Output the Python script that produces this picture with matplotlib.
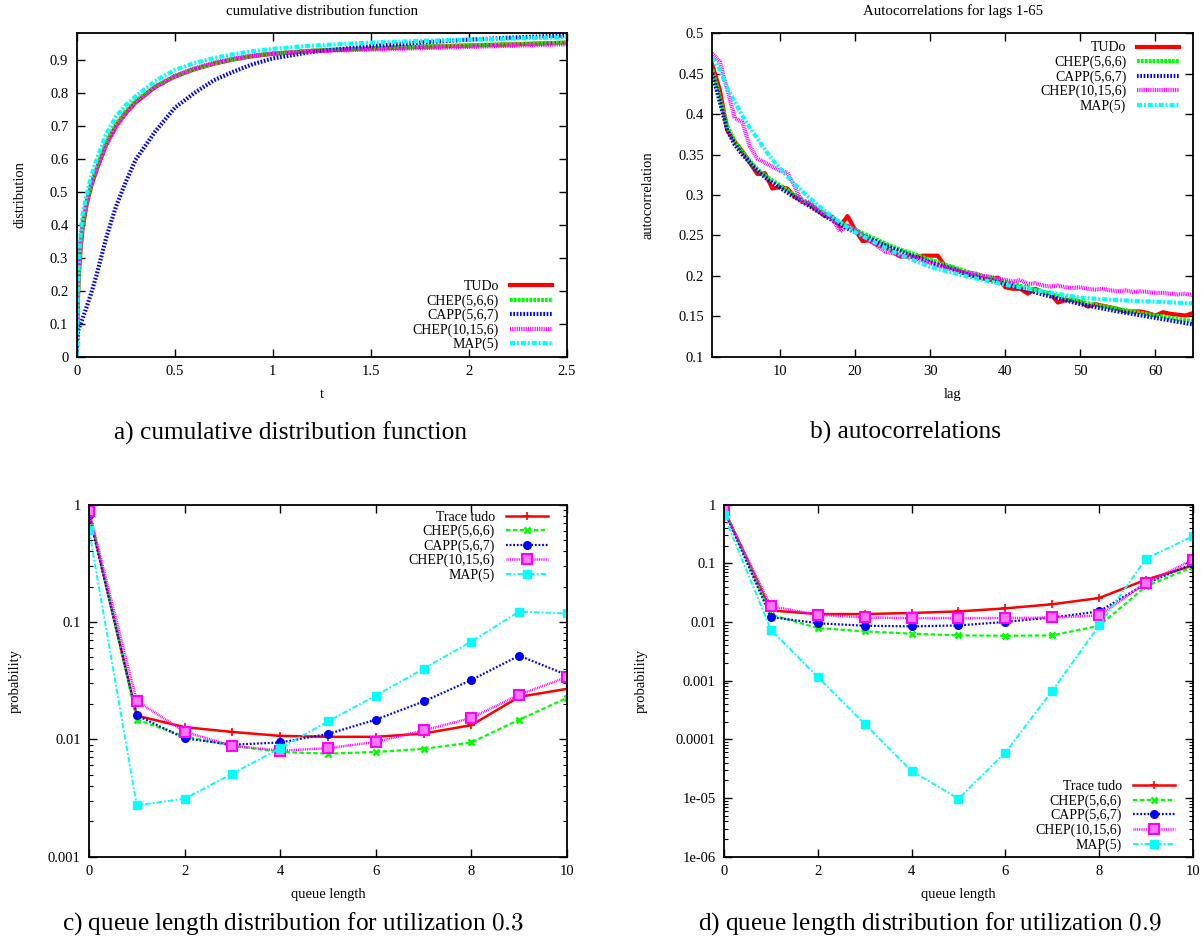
import matplotlib
matplotlib.use("Agg")
import matplotlib.pyplot as plt
from matplotlib import ticker

plt.rcParams['font.family'] = ['Liberation Serif', 'DejaVu Serif']
plt.rcParams['mathtext.fontset'] = 'cm'
plt.rcParams['lines.scale_dashes'] = False

# ---------------- data ----------------
names = ["TUDo", "CHEP(5,6,6)", "CAPP(5,6,7)", "CHEP(10,15,6)", "MAP(5)"]
queue_names = ["Trace tudo", "CHEP(5,6,6)", "CAPP(5,6,7)", "CHEP(10,15,6)", "MAP(5)"]

# a) cdf
t = [0, 0.005, 0.01, 0.02, 0.03, 0.05, 0.075, 0.1, 0.15, 0.2, 0.25, 0.3, 0.4, 0.5,
     0.6, 0.7, 0.8, 0.9, 1.0, 1.2, 1.5, 1.75, 2.0, 2.25, 2.5]
cdf_tudo = [0, 0.15, 0.24, 0.33, 0.39, 0.46, 0.52, 0.565, 0.645, 0.70, 0.74, 0.772, 0.818, 0.85,
            0.872, 0.889, 0.902, 0.912, 0.919, 0.928, 0.935, 0.94, 0.944, 0.948, 0.953]
cdf_chep566 = [0, 0.16, 0.25, 0.34, 0.40, 0.465, 0.525, 0.57, 0.65, 0.705, 0.744, 0.775, 0.82, 0.851,
               0.873, 0.89, 0.903, 0.913, 0.92, 0.929, 0.936, 0.941, 0.945, 0.949, 0.953]
cdf_capp = [0, 0.07, 0.085, 0.10, 0.115, 0.15, 0.195, 0.245, 0.36, 0.455, 0.53, 0.597, 0.683, 0.755,
            0.80, 0.839, 0.865, 0.888, 0.905, 0.925, 0.942, 0.953, 0.962, 0.969, 0.975]
cdf_chep10 = [0, 0.17, 0.26, 0.35, 0.41, 0.47, 0.525, 0.565, 0.64, 0.695, 0.738, 0.77, 0.818, 0.852,
              0.875, 0.892, 0.905, 0.914, 0.92, 0.927, 0.932, 0.936, 0.94, 0.944, 0.948]
cdf_map = [0, 0.19, 0.28, 0.37, 0.43, 0.49, 0.55, 0.595, 0.675, 0.728, 0.763, 0.79, 0.836, 0.87,
           0.891, 0.906, 0.918, 0.927, 0.934, 0.944, 0.953, 0.958, 0.962, 0.966, 0.969]

# b) autocorrelations
lags = list(range(1, 66))
acf_tudo = [0.461, 0.43, 0.38, 0.366, 0.354, 0.34, 0.326, 0.327, 0.308, 0.31,
            0.308, 0.298, 0.292, 0.288, 0.281, 0.274, 0.273, 0.261, 0.274, 0.257,
            0.243, 0.244, 0.238, 0.236, 0.23, 0.224, 0.224, 0.223, 0.225, 0.225,
            0.225, 0.212, 0.21, 0.206, 0.202, 0.2, 0.197, 0.195, 0.198, 0.186,
            0.184, 0.184, 0.178, 0.184, 0.18, 0.178, 0.167, 0.17, 0.17, 0.168,
            0.162, 0.165, 0.163, 0.161, 0.159, 0.156, 0.156, 0.156, 0.154, 0.151,
            0.155, 0.153, 0.152, 0.151, 0.154]
acf_chep10 = [0.475, 0.465, 0.43, 0.395, 0.39, 0.36, 0.345, 0.34, 0.335, 0.33,
              0.328, 0.31, 0.29, 0.292, 0.282, 0.277, 0.27, 0.255, 0.262, 0.258,
              0.25, 0.243, 0.237, 0.23, 0.228, 0.225, 0.224, 0.222, 0.219, 0.216,
              0.213, 0.21, 0.208, 0.205, 0.204, 0.203, 0.2, 0.199, 0.197, 0.195,
              0.193, 0.195, 0.19, 0.191, 0.188, 0.187, 0.188, 0.186, 0.185, 0.186,
              0.184, 0.183, 0.184, 0.182, 0.181, 0.182, 0.18, 0.181, 0.18, 0.179,
              0.179, 0.178, 0.177, 0.178, 0.176]
lags_smooth = [1, 2, 3, 4, 5, 6, 7, 8, 9, 10, 12, 14, 16, 18, 20, 25, 30, 35, 40, 45, 50, 55, 60, 65]
acf_chep566 = [0.455, 0.42, 0.385, 0.366, 0.353, 0.342, 0.332, 0.324, 0.318, 0.312, 0.3, 0.289,
               0.277, 0.266, 0.257, 0.236, 0.22, 0.205, 0.193, 0.18, 0.168, 0.159, 0.151, 0.144]
acf_capp = [0.45, 0.415, 0.38, 0.362, 0.35, 0.34, 0.33, 0.322, 0.315, 0.309, 0.297, 0.286,
            0.274, 0.263, 0.254, 0.234, 0.217, 0.202, 0.19, 0.177, 0.165, 0.156, 0.148, 0.14]
acf_map = [0.47, 0.455, 0.432, 0.415, 0.398, 0.383, 0.37, 0.356, 0.344, 0.333, 0.313, 0.296,
           0.28, 0.266, 0.254, 0.23, 0.211, 0.199, 0.189, 0.181, 0.173, 0.17, 0.168, 0.166]

# c) / d) queue length distributions
qlen = list(range(11))
q03_trace = [0.85, 0.0159, 0.0127, 0.01155, 0.0107, 0.0105, 0.0105, 0.0112, 0.0132, 0.023, 0.0269]
q03_chep566 = [0.9, 0.0147, 0.0106, 0.0088, 0.0078, 0.00755, 0.0078, 0.0083, 0.0094, 0.0147, 0.0225]
q03_capp = [0.82, 0.016, 0.0102, 0.009, 0.0094, 0.0111, 0.0147, 0.021, 0.032, 0.0516, 0.0353]
q03_chep10 = [0.88, 0.0212, 0.0116, 0.0088, 0.008, 0.0084, 0.0095, 0.0119, 0.0152, 0.024, 0.0338]
q03_map = [0.61, 0.00274, 0.00312, 0.0051, 0.0084, 0.0142, 0.0236, 0.04, 0.068, 0.1225, 0.118]

q09_trace = [0.82, 0.0157, 0.0136, 0.0136, 0.0142, 0.0151, 0.017, 0.02, 0.0255, 0.0525, 0.091]
q09_chep566 = [0.85, 0.0133, 0.00786, 0.0069, 0.0063, 0.0059, 0.0058, 0.0059, 0.0086, 0.0404, 0.0863]
q09_capp = [0.8, 0.0121, 0.0095, 0.0086, 0.0084, 0.0087, 0.01, 0.0119, 0.0151, 0.0449, 0.098]
q09_chep10 = [0.8, 0.0184, 0.0133, 0.0119, 0.0116, 0.0116, 0.0116, 0.0119, 0.0129, 0.046, 0.115]
q09_map = [0.65, 0.00736, 0.00115, 0.000183, 2.89e-5, 9.75e-6, 5.94e-5, 0.00067, 0.0087, 0.12, 0.288]

colors = ["#ff0000", "#00ff00", "#0000ff", "#ff00ff", "#00ffff"]


def gnu_axes(ax):
    ax.tick_params(which='both', direction='in', top=True, right=True, labelsize=10.5)
    ax.tick_params(which='major', length=6, width=1.0, pad=6)
    ax.tick_params(which='minor', length=3, width=0.8)
    for s in ax.spines.values():
        s.set_linewidth(1.3)


# markerfirst=False already right-aligns the labels against the samples
leg_kw = dict(frameon=False, markerfirst=False, fontsize=10, handlelength=3.0,
              handletextpad=0.8, labelspacing=0.08, borderaxespad=0.4)

fig = plt.figure(figsize=(12.04, 9.43), dpi=100)

ax_a = fig.add_axes([0.0637, 0.6217, 0.407, 0.3436])
ax_b = fig.add_axes([0.5916, 0.6217, 0.3993, 0.343])
ax_c = fig.add_axes([0.0739, 0.0915, 0.397, 0.3735])
ax_d = fig.add_axes([0.6013, 0.0915, 0.3895, 0.3735])

thick_styles = [dict(ls='-'),
                dict(dashes=(2.0, 0.8)),
                dict(dashes=(1.2, 1.2)),
                dict(dashes=(0.7, 0.6)),
                dict(dashes=(3.6, 1.4, 1.4, 1.4))]

# ---- a) cdf
cdfs = [cdf_tudo, cdf_chep566, cdf_capp, cdf_chep10, cdf_map]
for ys, nm, c, st in zip(cdfs, names, colors, thick_styles):
    ax_a.plot(t, ys, color=c, lw=3, label=nm, **st)
ax_a.set_xlim(0, 2.5)
ax_a.set_ylim(0, 0.983)
ax_a.xaxis.set_major_locator(ticker.MultipleLocator(0.5))
ax_a.yaxis.set_major_locator(ticker.MultipleLocator(0.1))
ax_a.xaxis.set_major_formatter(ticker.FormatStrFormatter('%g'))
ax_a.yaxis.set_major_formatter(ticker.FormatStrFormatter('%g'))
ax_a.set_title("cumulative distribution function", fontsize=10.7, pad=13)
ax_a.set_xlabel("t", fontsize=10.5, labelpad=7)
ax_a.set_ylabel("distribution", fontsize=10.5, labelpad=17)
gnu_axes(ax_a)
ax_a.legend(loc='lower right', bbox_to_anchor=(0.992, -0.018), **leg_kw)

# ---- b) autocorrelations
ax_b.plot(lags, acf_tudo, color=colors[0], lw=3, label=names[0], **thick_styles[0])
ax_b.plot(lags_smooth, acf_chep566, color=colors[1], lw=3, label=names[1], **thick_styles[1])
ax_b.plot(lags_smooth, acf_capp, color=colors[2], lw=3, label=names[2], **thick_styles[2])
ax_b.plot(lags, acf_chep10, color=colors[3], lw=3, label=names[3], **thick_styles[3])
ax_b.plot(lags_smooth, acf_map, color=colors[4], lw=3, label=names[4], **thick_styles[4])
ax_b.set_xlim(1, 65)
ax_b.set_ylim(0.1, 0.5)
ax_b.xaxis.set_major_locator(ticker.FixedLocator([10, 20, 30, 40, 50, 60]))
ax_b.yaxis.set_major_locator(ticker.MultipleLocator(0.05))
ax_b.yaxis.set_major_formatter(ticker.FormatStrFormatter('%g'))
ax_b.set_title("Autocorrelations for lags 1-65", fontsize=10.7, pad=13)
ax_b.set_xlabel("lag", fontsize=10.5, labelpad=7)
ax_b.set_ylabel("autocorrelation", fontsize=10.5, labelpad=17)
gnu_axes(ax_b)
ax_b.legend(loc='upper right', bbox_to_anchor=(0.994, 1.009), **leg_kw)

# ---- c) / d) queue length
thin_styles = [dict(ls='-', lw=1.8, marker='+', ms=6, mew=1.2),
               dict(dashes=(3.2, 1.8), lw=1.6, marker='x', ms=5, mew=1.8),
               dict(dashes=(1.3, 1.3), lw=1.6, marker='o', ms=5.5),
               dict(dashes=(0.7, 0.6), lw=1.8, marker='s', ms=7, mfc='#ff77ff', mew=1.5),
               dict(dashes=(4.0, 1.5, 1.3, 1.5), lw=1.4, marker='s', ms=5.5)]

q03 = [q03_trace, q03_chep566, q03_capp, q03_chep10, q03_map]
q09 = [q09_trace, q09_chep566, q09_capp, q09_chep10, q09_map]

for ax, data in ((ax_c, q03), (ax_d, q09)):
    for ys, nm, c, st in zip(data, queue_names, colors, thin_styles):
        ax.plot(qlen, ys, color=c, label=nm, **st)
    ax.set_yscale('log')
    ax.set_xlim(0, 10)
    ax.xaxis.set_major_locator(ticker.MultipleLocator(2))
    ax.yaxis.set_major_formatter(ticker.FuncFormatter(lambda v, p: '%g' % v))
    ax.yaxis.set_minor_formatter(ticker.NullFormatter())
    ax.set_xlabel("queue length", fontsize=10.5, labelpad=7)
    gnu_axes(ax)

ax_c.set_ylabel("probability", fontsize=10.5, labelpad=19)
ax_d.set_ylabel("probability", fontsize=10.5, labelpad=20)
ax_c.set_ylim(0.001, 1)
ax_d.set_ylim(1e-6, 1)
ax_d.yaxis.set_major_locator(ticker.LogLocator(base=10, numticks=10))
ax_c.legend(loc='upper right', bbox_to_anchor=(0.983, 1.014), **leg_kw)
ax_d.legend(loc='lower right', bbox_to_anchor=(0.985, -0.017), **leg_kw)

# captions
fig.text(0.241, 0.541, "a) cumulative distribution function", fontsize=18.3,
         ha='center', va='center')
fig.text(0.752, 0.541, "b) autocorrelations", fontsize=18.3, ha='center', va='center')
fig.text(0.2434, 0.021, r"c) queue length distribution for utilization $0.3$", fontsize=18.2,
         ha='center', va='center')
fig.text(0.7727, 0.021, r"d) queue length distribution for utilization $0.9$", fontsize=18.2,
         ha='center', va='center')

fig.savefig("out.png", dpi=100)
